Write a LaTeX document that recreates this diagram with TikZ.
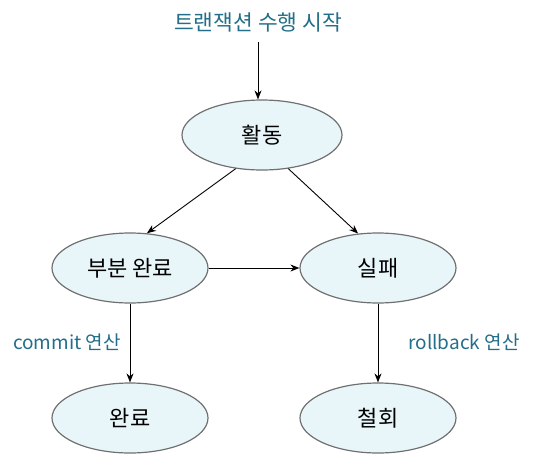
\documentclass[tikz,border=0pt]{standalone}
\usepackage{fontspec}
\setmainfont{Noto Sans CJK KR}
\usetikzlibrary{shapes.geometric,arrows.meta}
\definecolor{fillc}{HTML}{E8F6FA}
\definecolor{edgec}{HTML}{707070}
\definecolor{labc}{HTML}{236E88}
\begin{document}
\begin{tikzpicture}[x=1pt,y=-1pt,
  state/.style={ellipse,draw=edgec,line width=1.2pt,fill=fillc,minimum width=156pt,minimum height=70pt,inner sep=0pt,font=\fontsize{22}{26}\selectfont},
  conn/.style={-{Stealth[length=9pt,width=7pt]},line width=0.9pt,black},
  lab/.style={text=labc,font=\fontsize{19}{23}\selectfont,inner sep=0pt}]
\useasboundingbox (0,0) rectangle (544,466);
\node[lab,font=\fontsize{21.5}{25}\selectfont] (start) at (258,22) {트랜잭션 수행 시작};
\node[state,minimum width=160pt] (act) at (262,135) {활동};
\node[state] (part) at (130,268) {부분 완료};
\node[state] (fail) at (378,268) {실패};
\node[state] (done) at (130,418) {완료};
\node[state] (abort) at (378,418) {철회};
\coordinate (s) at (258,42);
\draw[conn] (s) -- (s |- act.north);
\draw[conn] (act.232) -- (part.64);
\draw[conn] (act.308) -- (fail.120);
\draw[conn] (part) -- (fail);
\draw[conn] (part) -- (done);
\draw[conn] (fail) -- (abort);
\node[lab] (commit) at (67,342) {commit 연산};
\node[lab] (rollback) at (464,342) {rollback 연산};
\end{tikzpicture}
\end{document}
